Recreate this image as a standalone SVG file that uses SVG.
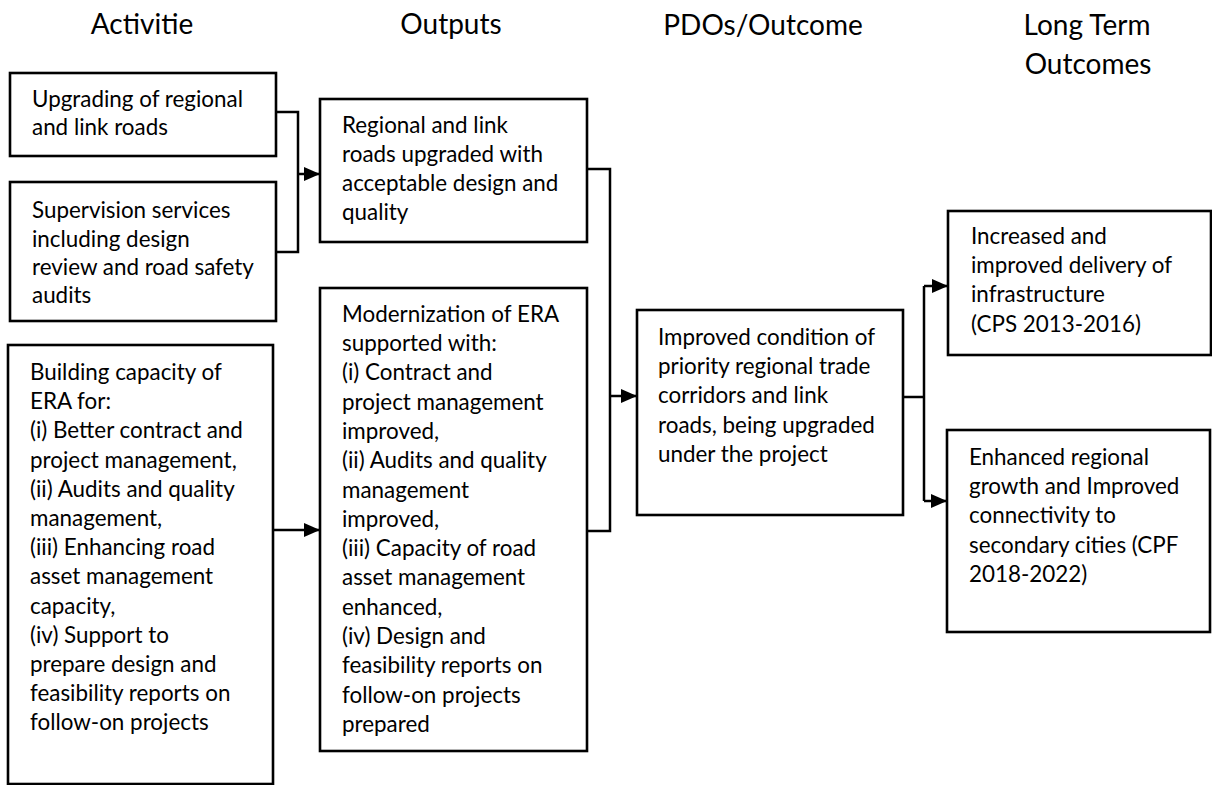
<svg xmlns="http://www.w3.org/2000/svg" width="1212" height="785" viewBox="0 0 1212 785">
<style>
.box{fill:#fff;stroke:#000;stroke-width:2.6}
.t{font-family:Lato,"Liberation Sans",sans-serif;font-size:22.4px;fill:#000}
.h{font-family:Lato,"Liberation Sans",sans-serif;font-size:28px;fill:#000;text-anchor:middle}
.c{fill:none;stroke:#000;stroke-width:2.5}
.a{fill:none;stroke:#000;stroke-width:2.5;marker-end:url(#arr)}
</style>
<defs>
<marker id="arr" markerUnits="userSpaceOnUse" markerWidth="17" markerHeight="15" refX="16" refY="7" orient="auto">
<path d="M0,0 L16,7 L0,14 z" fill="#000"/>
</marker>
</defs>
<rect width="1212" height="785" fill="#fff"/>
<g id="headers">
<text class="h" x="142" y="34">Activitie</text>
<text class="h" x="451" y="34">Outputs</text>
<text class="h" x="763" y="35">PDOs/Outcome</text>
<text class="h" x="1087" y="35">Long Term</text>
<text class="h" x="1088" y="74">Outcomes</text>
</g>
<g id="connectors">
<path class="c" d="M276,112 H298 V252 H276"/>
<path class="a" d="M298,174 H320"/>
<path class="a" d="M273,530 H320"/>
<path class="c" d="M587,169 H610 V531 H587"/>
<path class="a" d="M610,396 H637"/>
<path class="c" d="M903,397 H924 M924,286 V501"/>
<path class="a" d="M924,286 H948"/>
<path class="a" d="M924,501 H947"/>
</g>
<g id="act1">
<rect class="box" x="10" y="73" width="266" height="83"/>
<text class="t" x="32" y="107">Upgrading of regional</text>
<text class="t" x="32" y="135">and link roads</text>
</g>
<g id="act2">
<rect class="box" x="10" y="182" width="266" height="139"/>
<text class="t" x="32" y="218">Supervision services</text>
<text class="t" x="32" y="247">including design</text>
<text class="t" x="32" y="275">review and road safety</text>
<text class="t" x="32" y="303">audits</text>
</g>
<g id="act3">
<rect class="box" x="8" y="345" width="265" height="439"/>
<text class="t" x="30" y="380">Building capacity of</text>
<text class="t" x="30" y="409.2">ERA for:</text>
<text class="t" x="30" y="438.4">(i) Better contract and</text>
<text class="t" x="30" y="467.6">project management,</text>
<text class="t" x="30" y="496.8">(ii) Audits and quality</text>
<text class="t" x="30" y="526">management,</text>
<text class="t" x="30" y="555.2">(iii) Enhancing road</text>
<text class="t" x="30" y="584.4">asset management</text>
<text class="t" x="30" y="613.6">capacity,</text>
<text class="t" x="30" y="642.8">(iv) Support to</text>
<text class="t" x="30" y="672">prepare design and</text>
<text class="t" x="30" y="701.2">feasibility reports on</text>
<text class="t" x="30" y="730.4">follow-on projects</text>
</g>
<g id="out1">
<rect class="box" x="320" y="99" width="267" height="143"/>
<text class="t" x="342" y="133">Regional and link</text>
<text class="t" x="342" y="162">roads upgraded with</text>
<text class="t" x="342" y="191">acceptable design and</text>
<text class="t" x="342" y="219.5">quality</text>
</g>
<g id="out2">
<rect class="box" x="320" y="288" width="267" height="463"/>
<text class="t" x="342" y="321.7">Modernization of ERA</text>
<text class="t" x="342" y="351">supported with:</text>
<text class="t" x="342" y="380.3">(i) Contract and</text>
<text class="t" x="342" y="409.6">project management</text>
<text class="t" x="342" y="438.9">improved,</text>
<text class="t" x="342" y="468.2">(ii) Audits and quality</text>
<text class="t" x="342" y="497.5">management</text>
<text class="t" x="342" y="526.8">improved,</text>
<text class="t" x="342" y="556.1">(iii) Capacity of road</text>
<text class="t" x="342" y="585.4">asset management</text>
<text class="t" x="342" y="614.7">enhanced,</text>
<text class="t" x="342" y="644">(iv) Design and</text>
<text class="t" x="342" y="673.3">feasibility reports on</text>
<text class="t" x="342" y="702.6">follow-on projects</text>
<text class="t" x="342" y="731.9">prepared</text>
</g>
<g id="pdo">
<rect class="box" x="637" y="310" width="266" height="205"/>
<text class="t" x="658" y="345">Improved condition of</text>
<text class="t" x="658" y="374.2">priority regional trade</text>
<text class="t" x="658" y="403.4">corridors and link</text>
<text class="t" x="658" y="432.6">roads, being upgraded</text>
<text class="t" x="658" y="461.8">under the project</text>
</g>
<g id="lt1">
<rect class="box" x="948" y="211" width="263" height="144"/>
<text class="t" x="971" y="244">Increased and</text>
<text class="t" x="971" y="273.2">improved delivery of</text>
<text class="t" x="971" y="302.4">infrastructure</text>
<text class="t" x="971" y="331.6">(CPS 2013-2016)</text>
</g>
<g id="lt2">
<rect class="box" x="947" y="430" width="263" height="202"/>
<text class="t" x="969" y="465">Enhanced regional</text>
<text class="t" x="969" y="494.2">growth and Improved</text>
<text class="t" x="969" y="523.4">connectivity to</text>
<text class="t" x="969" y="552.6">secondary cities (CPF</text>
<text class="t" x="969" y="581.8">2018-2022)</text>
</g>
</svg>
